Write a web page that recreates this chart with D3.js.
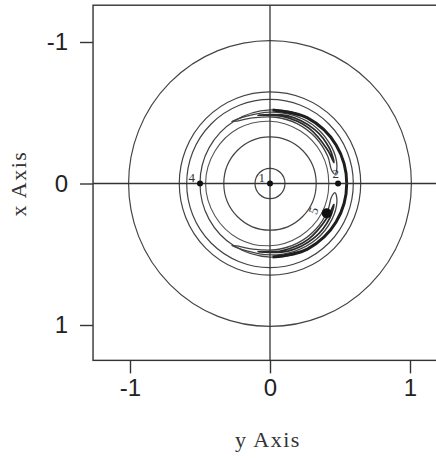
<!DOCTYPE html>
<html><head><meta charset="utf-8">
<script src="https://cdn.jsdelivr.net/npm/d3@7"></script>
<style>body{margin:0;background:#fff}svg{display:block}</style>
</head><body><svg id="chart" width="436" height="458"></svg>
<script>
// axis ticks
const tickValues = [-1, 0, 1];
const tickLabels = ["-1", "0", "1"];
// concentric level curves (radius)
const circleRadii = [0.107, 0.33, 0.595, 0.648, 1.01];
// marked equilibrium points: label, y-axis value, x-axis value
const pointLabels = ["1", "2", "4", "5"];
const pointY = [0, 0.486, -0.5, 0.405];
const pointX = [0, 0, 0, 0.21];
// level curves given as [angle in degrees, radius]
const outerLoop = [[-180,0.50],[-150,0.503],[-120,0.51],[-90,0.52],[-60,0.535],[-30,0.545],[0,0.548],[30,0.545],[60,0.535],[90,0.52],[120,0.51],[150,0.503]];
const innerLoop = [[-180,0.46],[-150,0.455],[-120,0.45],[-90,0.44],[-60,0.43],[-30,0.425],[0,0.42],[30,0.425],[60,0.43],[90,0.44],[120,0.45],[150,0.455]];
const darkBand = [[-88,0.52],[-60,0.535],[-30,0.545],[0,0.548],[30,0.545],[60,0.535],[88,0.52]];
const upperTadpole = [[-122,0.515],[-110,0.505],[-90,0.505],[-70,0.51],[-50,0.515],[-30,0.51],[-15,0.495],[-8,0.47],[-12,0.45],[-25,0.455],[-45,0.46],[-65,0.465],[-85,0.47],[-105,0.48],[-118,0.5]];
const lowerTadpole = [[122,0.515],[110,0.505],[90,0.505],[70,0.51],[50,0.515],[30,0.51],[15,0.495],[8,0.47],[12,0.45],[25,0.455],[45,0.46],[65,0.465],[85,0.47],[105,0.48],[118,0.5]];
const upperCore = [[-100,0.49],[-75,0.495],[-50,0.497],[-30,0.492],[-18,0.48],[-30,0.475],[-55,0.48],[-80,0.483]];
const lowerCore = [[100,0.49],[75,0.495],[50,0.497],[30,0.492],[18,0.48],[30,0.475],[55,0.48],[80,0.483]];

const svg = d3.select("#chart");
const x = d3.scaleLinear().domain([-1, 1]).range([130, 410]);
const y = d3.scaleLinear().domain([-1, 1]).range([42, 325]);
const frame = {h0: -1.264, h1: 1.264, v0: -1.26, v1: 1.25};
const ink = "#333";

svg.append("rect").attr("width", 436).attr("height", 458).attr("fill", "#fff");
svg.append("clipPath").attr("id", "plot").append("rect")
  .attr("x", x(frame.h0)).attr("y", y(frame.v0))
  .attr("width", x(frame.h1) - x(frame.h0)).attr("height", y(frame.v1) - y(frame.v0));

const g = svg.append("g").attr("clip-path", "url(#plot)");
const toXY = d => [x(d[1] * Math.cos(d[0] * Math.PI / 180)), y(d[1] * Math.sin(d[0] * Math.PI / 180))];
const closed = d3.line().curve(d3.curveCatmullRomClosed.alpha(0.5));
const open = d3.line().curve(d3.curveCatmullRom.alpha(0.5));

g.selectAll("ellipse.level").data(circleRadii).join("ellipse")
  .attr("class", "level")
  .attr("cx", x(0)).attr("cy", y(0))
  .attr("rx", r => x(r) - x(0)).attr("ry", r => y(r) - y(0))
  .attr("fill", "none").attr("stroke", "#444").attr("stroke-width", 1.2);

const loops = [
  {pts: outerLoop, closed: true, w: 1.2, c: "#444"},
  {pts: innerLoop, closed: true, w: 1.1, c: "#555"},
  {pts: upperTadpole, closed: true, w: 1.3, c: "#444"},
  {pts: lowerTadpole, closed: true, w: 1.3, c: "#444"},
  {pts: upperCore, closed: true, w: 1.8, c: "#2a2a2a"},
  {pts: lowerCore, closed: true, w: 1.8, c: "#2a2a2a"},
  {pts: darkBand, closed: false, w: 3, c: "#1e1e1e"}
];
g.selectAll("path.level").data(loops).join("path")
  .attr("class", "level")
  .attr("d", d => (d.closed ? closed : open)(d.pts.map(toXY)))
  .attr("fill", "none").attr("stroke", d => d.c).attr("stroke-width", d => d.w);

// crosshair through the origin
g.append("line").attr("x1", x(frame.h0)).attr("x2", x(frame.h1)).attr("y1", y(0)).attr("y2", y(0))
  .attr("stroke", ink).attr("stroke-width", 1.3);
g.append("line").attr("x1", x(0)).attr("x2", x(0)).attr("y1", y(frame.v0)).attr("y2", y(frame.v1))
  .attr("stroke", ink).attr("stroke-width", 1.3);

// points
const pts = pointLabels.map((l, i) => ({l, h: pointY[i], v: pointX[i]}));
g.selectAll("circle.pt").data(pts).join("circle")
  .attr("class", "pt")
  .attr("cx", d => x(d.h)).attr("cy", d => y(d.v))
  .attr("r", d => d.l === "5" ? 5 : 3).attr("fill", "#111");
g.selectAll("text.pt").data(pts).join("text")
  .attr("class", "pt")
  .attr("transform", d => d.l === "5"
      ? `translate(${x(d.h) - 8},${y(d.v) - 4}) rotate(-70)`
      : `translate(${x(d.h) - (d.l === "2" ? -1 : 5)},${y(d.v) - (d.l === "2" ? 6 : 2)})`)
  .attr("text-anchor", "end")
  .attr("font-family", "Liberation Serif, serif").attr("font-size", 13).attr("fill", "#333")
  .text(d => d.l);

// frame (right edge falls outside the page)
svg.append("rect")
  .attr("x", x(frame.h0)).attr("y", y(frame.v0))
  .attr("width", x(frame.h1) - x(frame.h0)).attr("height", y(frame.v1) - y(frame.v0))
  .attr("fill", "none").attr("stroke", ink).attr("stroke-width", 1.4);

// axes
const bottom = d3.axisBottom(x).tickValues(tickValues).tickSize(13).tickPadding(6).tickFormat((d, i) => tickLabels[i]);
const left = d3.axisLeft(y).tickValues(tickValues).tickSize(13).tickPadding(12).tickFormat((d, i) => tickLabels[i]);
const ga = svg.append("g").attr("transform", `translate(0,${y(frame.v1)})`).call(bottom);
const gl = svg.append("g").attr("transform", `translate(${x(frame.h0)},0)`).call(left);
[ga, gl].forEach(a => {
  a.select(".domain").remove();
  a.selectAll(".tick line").attr("stroke", ink).attr("stroke-width", 1.4);
  a.selectAll(".tick text").attr("font-family", "Liberation Sans, Arial, sans-serif")
    .attr("font-size", 24).attr("fill", "#222");
});

svg.append("text").attr("x", 268).attr("y", 447).attr("text-anchor", "middle")
  .attr("font-family", "Liberation Serif, serif").attr("font-size", 22).attr("letter-spacing", 1.5)
  .attr("fill", "#333").text("y Axis");
svg.append("text").attr("transform", `translate(26,${y(0)}) rotate(-90)`).attr("text-anchor", "middle")
  .attr("font-family", "Liberation Serif, serif").attr("font-size", 22).attr("letter-spacing", 1.5)
  .attr("fill", "#333").text("x Axis");
</script></body></html>
